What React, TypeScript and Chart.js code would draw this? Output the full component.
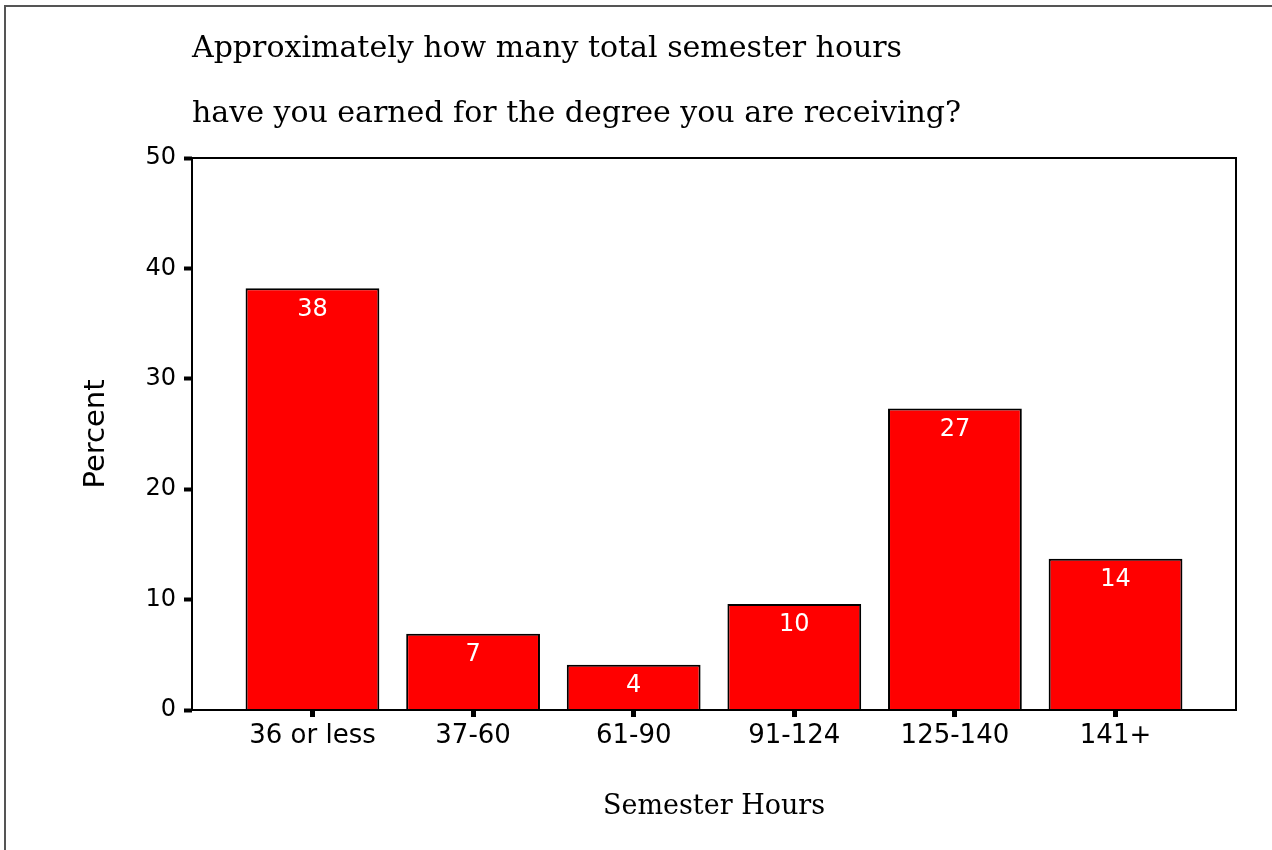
import React, { useEffect, useRef } from "react";
import { Chart, registerables } from "chart.js";

Chart.register(...registerables);

const titleLines = [
  "Approximately how many total semester hours",
  "have you earned for the degree you are receiving?",
];
const categories = ["36 or less", "37-60", "61-90", "91-124", "125-140", "141+"];
const percentValues = [38.2, 6.9, 4.1, 9.6, 27.3, 13.7];
const yTicks = [0, 10, 20, 30, 40, 50];
const xAxisTitle = "Semester Hours";
const yAxisTitle = "Percent";

const SANS = "'DejaVu Sans', 'Liberation Sans', Arial, sans-serif";
const SERIF = "'DejaVu Serif', 'Liberation Serif', serif";

const decorPlugin = {
  id: "decor",
  beforeDraw(chart: any) {
    const ctx = chart.ctx;
    ctx.save();
    ctx.fillStyle = "#ffffff";
    ctx.fillRect(0, 0, chart.width, chart.height);
    ctx.strokeStyle = "#555555";
    ctx.lineWidth = 2;
    ctx.strokeRect(5, 6, chart.width + 20, chart.height + 20);
    ctx.fillStyle = "#000000";
    ctx.font = `30px ${SERIF}`;
    ctx.textAlign = "left";
    ctx.textBaseline = "alphabetic";
    const left = chart.chartArea.left;
    ctx.fillText(titleLines[0], left, 57);
    ctx.fillText(titleLines[1], left, 122);
    ctx.restore();
  },
  afterDatasetsDraw(chart: any) {
    const ctx = chart.ctx;
    const a = chart.chartArea;
    ctx.save();
    ctx.strokeStyle = "#000000";
    ctx.lineWidth = 2;
    ctx.strokeRect(a.left, a.top, a.right - a.left, a.bottom - a.top);
    const meta = chart.getDatasetMeta(0);
    ctx.fillStyle = "#ffffff";
    ctx.font = `24px ${SANS}`;
    ctx.textAlign = "center";
    ctx.textBaseline = "middle";
    meta.data.forEach((bar: any, i: number) => {
      ctx.fillText(String(Math.round(percentValues[i])), bar.x, bar.y + 21);
    });
    ctx.restore();
  },
};

export default function App() {
  const ref = useRef<HTMLCanvasElement | null>(null);

  useEffect(() => {
    document.body.style.margin = "0";
    const canvas = ref.current;
    if (!canvas) return;
    const chart = new Chart(canvas, {
      type: "bar",
      data: {
        datasets: [
          {
            data: percentValues.map((v, i) => ({ x: i, y: v })),
            backgroundColor: "#ff0000",
            borderColor: "#000000",
            borderWidth: 2,
            categoryPercentage: 1,
            barPercentage: 0.833,
          },
        ],
      },
      options: {
        animation: false,
        responsive: false,
        devicePixelRatio: 1,
        layout: { padding: { left: 0, top: 158, right: 36, bottom: 0 } },
        plugins: {
          legend: { display: false },
          tooltip: { enabled: false },
          title: { display: false },
        },
        scales: {
          x: {
            type: "linear",
            min: -0.75,
            max: 5.75,
            offset: false,
            afterBuildTicks: (scale: any) => {
              scale.ticks = categories.map((_, i) => ({ value: i }));
            },
            afterFit: (scale: any) => {
              scale.height = 140;
            },
            ticks: {
              callback: (v: any) => categories[v as number] ?? "",
              font: { family: SANS, size: 26 },
              color: "#000000",
              padding: 4,
              maxRotation: 0,
              autoSkip: false,
            },
            grid: {
              display: true,
              offset: false,
              drawOnChartArea: false,
              drawTicks: true,
              tickLength: 7,
              tickWidth: 5,
              tickColor: "#000000",
            },
            border: { display: false },
            title: {
              display: true,
              text: xAxisTitle,
              font: { family: SERIF, size: 27 },
              color: "#000000",
              padding: { top: 0, bottom: 27 },
            },
          },
          y: {
            type: "linear",
            min: 0,
            max: 50,
            afterBuildTicks: (scale: any) => {
              scale.ticks = yTicks.map((v) => ({ value: v }));
            },
            afterFit: (scale: any) => {
              scale.width = 192;
            },
            ticks: {
              font: { family: SANS, size: 24 },
              color: "#000000",
              padding: 8,
            },
            grid: {
              display: true,
              drawOnChartArea: false,
              drawTicks: true,
              tickLength: 8,
              tickWidth: 4,
              tickColor: "#000000",
            },
            border: { display: false },
            title: {
              display: true,
              text: yAxisTitle,
              font: { family: SANS, size: 29 },
              color: "#000000",
              padding: { top: 79, bottom: 0 },
            },
          },
        },
      },
      plugins: [decorPlugin],
    } as any);
    return () => chart.destroy();
  }, []);

  return (
    <canvas
      ref={ref}
      width={1272}
      height={850}
      style={{ display: "block", width: "1272px", height: "850px" }}
    />
  );
}
